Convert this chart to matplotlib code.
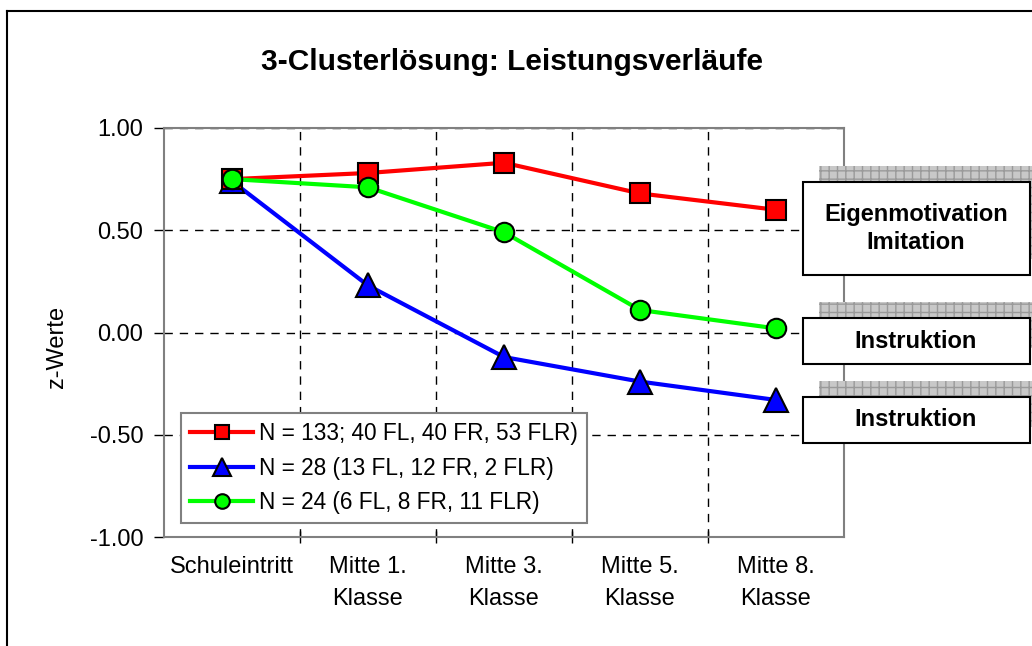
import matplotlib
matplotlib.use("Agg")
import matplotlib.pyplot as plt
from matplotlib.patches import Rectangle
from matplotlib.lines import Line2D

plt.rcParams['font.family'] = ['Liberation Sans', 'DejaVu Sans']

# Daten
kategorien = ["Schuleintritt", "Mitte 1.\nKlasse", "Mitte 3.\nKlasse", "Mitte 5.\nKlasse", "Mitte 8.\nKlasse"]
werte_rot = [0.75, 0.78, 0.83, 0.68, 0.60]
werte_blau = [0.74, 0.23, -0.12, -0.24, -0.33]
werte_gruen = [0.75, 0.71, 0.49, 0.11, 0.02]
label_rot = "N = 133; 40 FL, 40 FR, 53 FLR)"
label_blau = "N = 28 (13 FL, 12 FR, 2 FLR)"
label_gruen = "N = 24 (6 FL, 8 FR, 11 FLR)"
y_ticks = [-1.0, -0.5, 0.0, 0.5, 1.0]
boxen = ["Eigenmotivation\nImitation", "Instruktion", "Instruktion"]

W, H = 1032, 646
fig = plt.figure(figsize=(W / 100, H / 100), dpi=100)
fig.patch.set_facecolor("white")

ax = fig.add_axes([164 / W, 1 - 537 / H, (844 - 164) / W, (537 - 128) / H])
x = list(range(len(kategorien)))

# Reihenfolge: blau, rot, gruen (gruen liegt oben)
l_blau, = ax.plot(x, werte_blau, color="#0000ff", lw=3, marker="^", ms=17,
                  mfc="#0000ff", mec="black", mew=1.5, zorder=3)
l_rot, = ax.plot(x, werte_rot, color="#ff0000", lw=3, marker="s", ms=14,
                 mfc="#ff0000", mec="black", mew=1.5, zorder=4)
l_gruen, = ax.plot(x, werte_gruen, color="#00ff00", lw=3, marker="o", ms=14,
                   mfc="#00ff00", mec="black", mew=1.5, zorder=5)

ax.set_xlim(-0.5, len(kategorien) - 0.5)
ax.set_ylim(-1.0, 1.0)
ax.set_yticks(y_ticks)
ax.set_yticklabels([f"{v:.2f}" for v in y_ticks], fontsize=17)
ax.set_xticks(x)
ax.set_xticklabels(kategorien, fontsize=17, linespacing=1.55)
ax.set_xticks([i + 0.5 for i in x[:-1]], minor=True)
ax.tick_params(axis="x", which="major", length=0, pad=14)
ax.tick_params(axis="x", which="minor", direction="inout", length=9, width=1)
ax.tick_params(axis="y", direction="out", length=7, width=1, pad=8)
ax.set_ylabel("z-Werte", fontsize=17)
ax.yaxis.set_label_coords(-0.141, 0.465)

ax.grid(axis="x", which="minor", color="black", ls=(0, (6, 5)), lw=1)
ax.grid(axis="y", which="major", color="black", ls=(0, (6, 5)), lw=1)
for s in ax.spines.values():
    s.set_color("#808080")
    s.set_linewidth(1.5)

leg = ax.legend([l_rot, l_blau, l_gruen], [label_rot, label_blau, label_gruen],
                loc="lower left", bbox_to_anchor=(181 / W, 1 - 523 / H),
                bbox_transform=fig.transFigure, fontsize=16.3, handlelength=2.8,
                handletextpad=0.25, labelspacing=0.5, borderpad=0.4,
                borderaxespad=0, fancybox=False, framealpha=1, markerscale=0.75)
leg.get_frame().set_edgecolor("#808080")
leg.get_frame().set_linewidth(1.5)

fig.text(512 / W, 1 - 62 / H, "3-Clusterlösung: Leistungsverläufe",
         ha="center", va="center", fontsize=21.5, fontweight="bold")

# Rahmen der Grafik (links und oben)
fig.add_artist(Line2D([7 / W, 7 / W], [0, 1 - 11 / H], color="black", lw=1.5,
                      transform=fig.transFigure))
fig.add_artist(Line2D([7 / W, 1], [1 - 11 / H, 1 - 11 / H], color="black", lw=1.5,
                      transform=fig.transFigure))

# Textboxen rechts mit Schatten
box_pos = [(182, 275), (318, 364), (397, 443)]
for text, (top, bottom) in zip(boxen, box_pos):
    h = bottom - top
    schatten = Rectangle((819 / W, 1 - (top - 16 + h) / H), 240 / W, h / H,
                         transform=fig.transFigure, facecolor="#c8c8c8",
                         edgecolor="#9a9a9a", hatch="++", lw=0, zorder=1)
    fig.add_artist(schatten)
    box = Rectangle((803 / W, 1 - bottom / H), (1030 - 803) / W, h / H,
                    transform=fig.transFigure, facecolor="white",
                    edgecolor="black", lw=1.5, zorder=3)
    fig.add_artist(box)
    fig.text(916 / W, 1 - (top + bottom) / 2 / H, text, ha="center", va="center",
             fontsize=17, fontweight="bold", linespacing=1.3, zorder=4)

fig.savefig("out.png", dpi=100)
